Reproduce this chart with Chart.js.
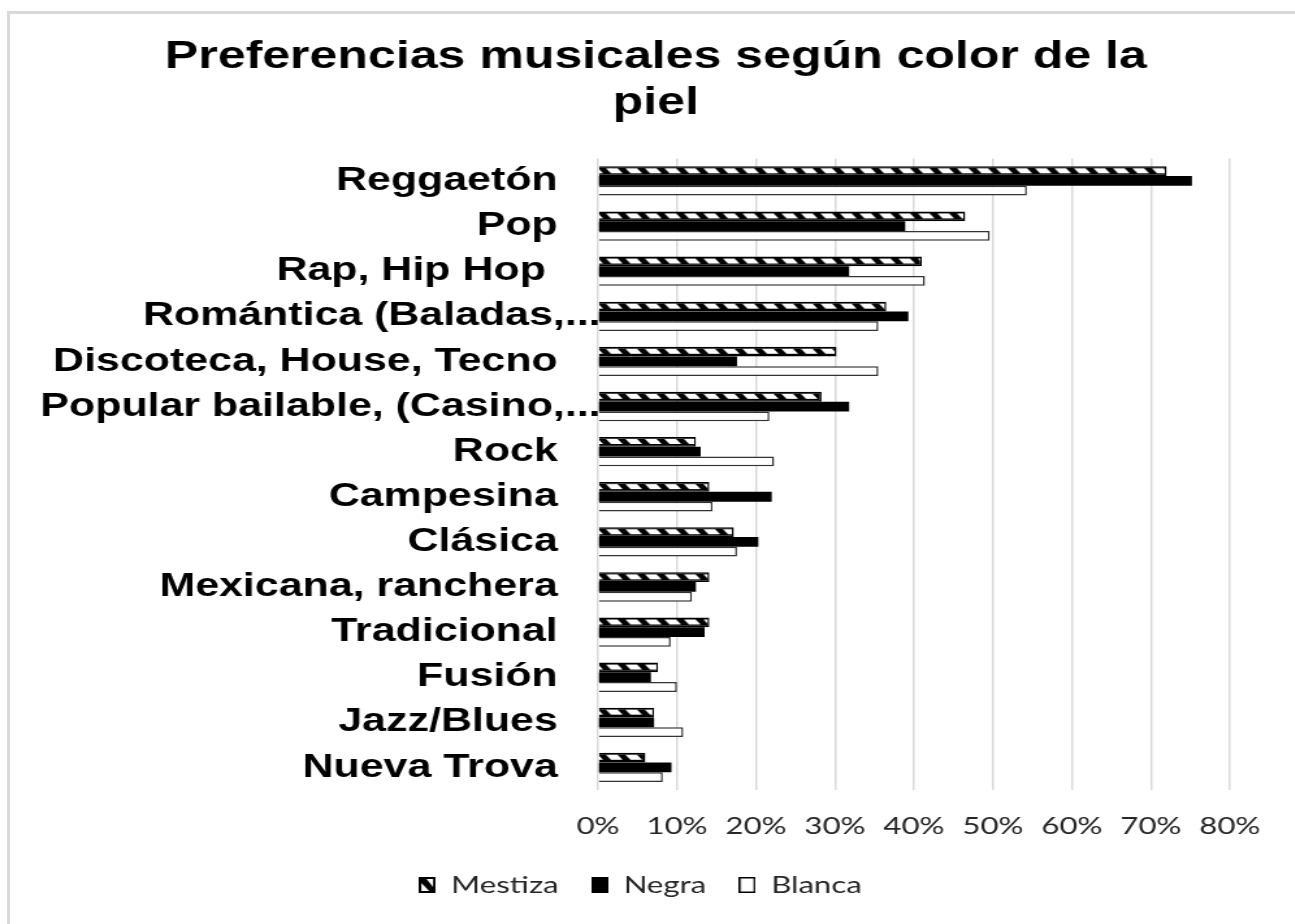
<!DOCTYPE html>
<html>
<head>
<meta charset="utf-8">
<script src="https://cdn.jsdelivr.net/npm/chart.js@4"></script>
<style>
  html, body { margin: 0; padding: 0; background: #fff; overflow: hidden; }
  #frame { position: absolute; left: 7px; top: 11px; right: -10px; bottom: -10px;
           border-left: 3px solid #d9d9d9; border-top: 3px solid #d9d9d9; }
  /* the chart is laid out narrow, then widened to the page */
  #wrap { position: absolute; left: 0; top: 0; width: 996px; height: 924px;
          transform: scaleX(1.3); transform-origin: 0 0; }
</style>
</head>
<body>
<div id="frame"></div>
<div id="wrap"><canvas id="chart" width="996" height="924"></canvas></div>
<script>
var categories = ["Reggaetón", "Pop", "Rap, Hip Hop ", "Romántica (Baladas,...",
  "Discoteca, House, Tecno", "Popular bailable, (Casino,...", "Rock", "Campesina",
  "Clásica", "Mexicana, ranchera", "Tradicional", "Fusión", "Jazz/Blues", "Nueva Trova"];

var mestiza = [72.0, 46.5, 41.0, 36.5, 30.2, 28.3, 12.4, 14.1, 17.2, 14.1, 14.1, 7.6, 7.1, 6.0];
var negra   = [75.2, 38.9, 31.8, 39.3, 17.6, 31.8, 13.0, 22.0, 20.3, 12.4, 13.5, 6.7, 7.1, 9.3];
var blanca  = [54.3, 49.6, 41.4, 35.5, 35.5, 21.7, 22.3, 14.5, 17.6, 11.9, 9.2, 10.0, 10.8, 8.2];

var xTicks = [0, 10, 20, 30, 40, 50, 60, 70, 80];

var CAT_PCT = 0.65;

// hatch tile for the Mestiza bars: black with slanted white dashes
var tile = document.createElement("canvas");
tile.width = 15; tile.height = 10;
(function () {
  var t = tile.getContext("2d");
  t.fillStyle = "#000";
  t.fillRect(0, 0, 15, 10);
  t.fillStyle = "#fff";
  t.beginPath();
  t.moveTo(1, 2); t.lineTo(10, 2); t.lineTo(14, 7); t.lineTo(5, 7);
  t.closePath();
  t.fill();
})();

function mestizaFill(c) {
  var y = c.chart.scales.y;
  if (!y || c.dataIndex === undefined) return "#000";
  var band = (y.bottom - y.top) / categories.length;
  var top = y.getPixelForValue(c.dataIndex) - band * CAT_PCT / 2;
  var pat = c.chart.ctx.createPattern(tile, "repeat");
  pat.setTransform(new DOMMatrix().translate(0, top));
  return pat;
}

// legend icons
function icon(draw) {
  var cv = document.createElement("canvas");
  cv.width = 13; cv.height = 16;
  draw(cv.getContext("2d"));
  return cv;
}
var icons = [
  icon(function (g) {
    g.fillStyle = "#000"; g.fillRect(0, 0, 13, 16);
    g.fillStyle = "#fff"; g.fillRect(2, 2, 9, 12);
    g.fillStyle = "#000";
    g.beginPath(); g.moveTo(2, 2); g.lineTo(6, 2); g.lineTo(11, 10); g.lineTo(11, 14);
    g.lineTo(8, 14); g.lineTo(2, 6); g.closePath(); g.fill();
  }),
  icon(function (g) { g.fillStyle = "#000"; g.fillRect(0, 0, 13, 16); }),
  icon(function (g) {
    g.fillStyle = "#000"; g.fillRect(0, 0, 13, 16);
    g.fillStyle = "#fff"; g.fillRect(1.5, 1.5, 10, 13);
  })
];

var labelFont = { family: "'Liberation Sans', Arial, sans-serif", size: 33, weight: "bold" };
var smallFont = { family: "Lato, 'Open Sans', sans-serif", size: 24 };

// nudge the legend a little left of the title's centre line
var legendShift = {
  id: "legendShift",
  afterLayout: function (chart) {
    if (chart.legend) { chart.legend.left -= 12; chart.legend.right -= 12; }
  }
};

new Chart(document.getElementById("chart"), {
  type: "bar",
  data: {
    labels: categories,
    datasets: [
      { label: "Mestiza", data: mestiza, backgroundColor: mestizaFill,
        borderColor: "#000", borderWidth: 1.5 },
      { label: "Negra", data: negra, backgroundColor: "#000",
        borderColor: "#000", borderWidth: 0 },
      { label: "Blanca", data: blanca, backgroundColor: "#fff",
        borderColor: "#333", borderWidth: 1.5 }
    ]
  },
  options: {
    indexAxis: "y",
    responsive: false,
    animation: false,
    devicePixelRatio: 1,
    datasets: { bar: { categoryPercentage: CAT_PCT, barPercentage: 1 } },
    layout: { padding: { left: 63, right: 50, top: 0, bottom: 17 } },
    scales: {
      x: {
        min: 0, max: 80,
        afterBuildTicks: function (s) { s.ticks = xTicks.map(function (v) { return { value: v }; }); },
        afterFit: function (s) { s.height = 58; },
        grid: { color: "#d9d9d9", lineWidth: 1.5, drawTicks: false },
        border: { display: false },
        ticks: { padding: 22, color: "#262626", font: smallFont,
                 callback: function (v) { return v + "%"; } }
      },
      y: {
        afterFit: function (s) {
          s.width = 397;
          // long category names run past the axis box, so don't clip them
          s._computeLabelArea = function () { return undefined; };
        },
        grid: { display: false },
        border: { display: false },
        ticks: {
          padding: -10, color: "#000", font: labelFont, autoSkip: false,
          callback: function (v) {
            var t = this.getLabelForValue(v);
            return t.slice(-3) === "..." ? t : t + "\u2002\u2002";
          }
        }
      }
    },
    plugins: {
      title: {
        display: true,
        text: ["Preferencias musicales según color de la", "piel"],
        color: "#000",
        font: { family: "'Liberation Sans', Arial, sans-serif", size: 38.5, weight: "bold", lineHeight: 1.2 },
        padding: { top: 34, bottom: 32 }
      },
      legend: {
        position: "bottom",
        labels: {
          usePointStyle: true,
          pointStyleWidth: 13,
          padding: 25,
          color: "#262626",
          font: smallFont,
          generateLabels: function (chart) {
            return chart.data.datasets.map(function (ds, i) {
              return { text: ds.label, pointStyle: icons[i], fillStyle: "#000",
                       strokeStyle: "#000", lineWidth: 0, hidden: false,
                       datasetIndex: i, fontColor: "#262626" };
            });
          }
        }
      },
      tooltip: { enabled: false }
    }
  },
  plugins: [legendShift]
});
</script>
</body>
</html>
